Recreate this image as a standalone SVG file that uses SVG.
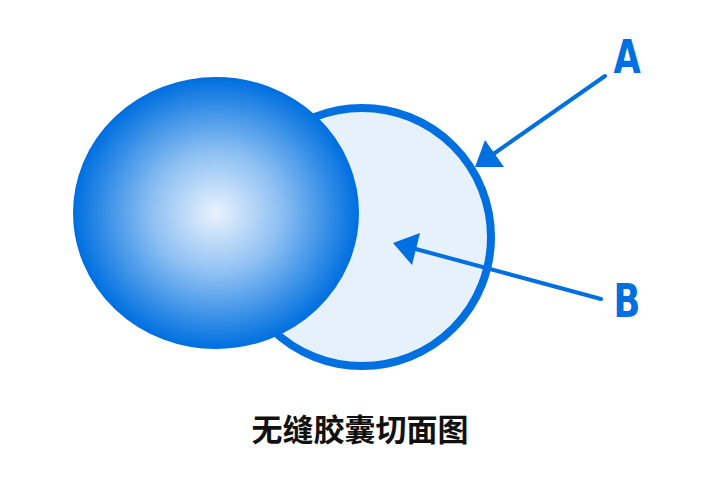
<svg xmlns="http://www.w3.org/2000/svg" width="720" height="480" viewBox="0 0 720 480">
<style>
.lbl{font-family:"Liberation Sans Narrow","DejaVu Sans Condensed","Liberation Sans",sans-serif;font-weight:bold;font-size:46px;fill:#0070E0;text-anchor:middle}
.cap{font-family:"Noto Sans CJK SC","Noto Sans",sans-serif;font-weight:bold;font-size:31px;fill:#111;text-anchor:middle}
.ln{stroke:#0070E0;stroke-width:4;stroke-linecap:round;fill:none}
.hd{fill:#0070E0}
</style>
<defs>
<radialGradient id="g" cx="0.5" cy="0.5" r="0.5">
<stop offset="0" stop-color="#EAF3FD"/>
<stop offset="0.45" stop-color="#8EC0F2"/>
<stop offset="1" stop-color="#0070E0"/>
</radialGradient>
</defs>
<rect width="720" height="480" fill="#fff"/>
<g id="shell">
<circle cx="362" cy="237" r="129" fill="#E6F1FC" stroke="#0070E0" stroke-width="8"/>
</g>
<g id="sphere">
<ellipse cx="216" cy="213" rx="142" ry="135" fill="url(#g)" stroke="#0070E0" stroke-width="2"/>
</g>
<g id="connectors">
<line class="ln" x1="605" y1="76" x2="492" y2="155"/>
<polygon class="hd" points="475,167 485,140 504,167"/>
<line class="ln" x1="601" y1="299" x2="412" y2="248"/>
<polygon class="hd" points="393,243 420,233 412,265"/>
</g>
<g id="labelA"><text class="lbl" transform="translate(627,73) scale(0.85,1)">A</text></g>
<g id="labelB"><text class="lbl" transform="translate(627,317) scale(0.85,1)">B</text></g>
<g id="caption"><text class="cap" x="360" y="441">无缝胶囊切面图</text></g>
</svg>
